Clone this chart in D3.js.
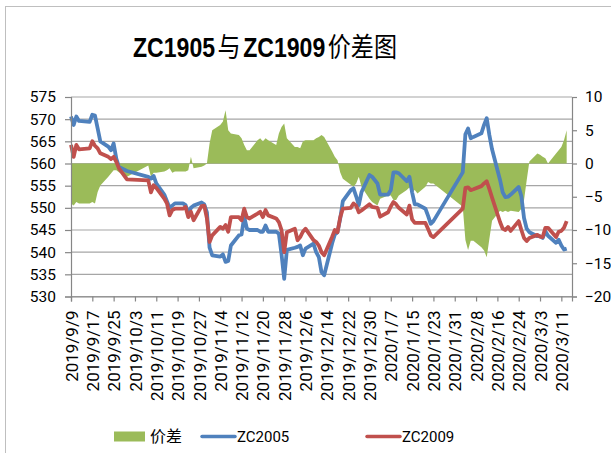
<!DOCTYPE html>
<html>
<head>
<meta charset="utf-8">
<script src="https://cdn.jsdelivr.net/npm/d3@7"></script>
<style>
  body { margin: 0; background: #fff; }
  svg { display: block; }
</style>
</head>
<body>
<svg id="chart" width="611" height="453"></svg>
<script>
// trading days (holidays skipped, hence the straight runs in Oct and around Spring Festival)
const dates = [
  "2019/9/9","2019/9/10","2019/9/11","2019/9/12","2019/9/16","2019/9/17","2019/9/18","2019/9/19","2019/9/20","2019/9/23","2019/9/24","2019/9/25","2019/9/26","2019/9/27","2019/9/30",
  "2019/10/8","2019/10/9","2019/10/10","2019/10/11","2019/10/14","2019/10/15","2019/10/16","2019/10/17","2019/10/18","2019/10/21","2019/10/22","2019/10/23","2019/10/24","2019/10/25","2019/10/28","2019/10/29","2019/10/30","2019/10/31",
  "2019/11/1","2019/11/4","2019/11/5","2019/11/6","2019/11/7","2019/11/8","2019/11/11","2019/11/12","2019/11/13","2019/11/14","2019/11/15","2019/11/18","2019/11/19","2019/11/20","2019/11/21","2019/11/22","2019/11/25","2019/11/26","2019/11/27","2019/11/28","2019/11/29",
  "2019/12/2","2019/12/3","2019/12/4","2019/12/5","2019/12/6","2019/12/9","2019/12/10","2019/12/11","2019/12/12","2019/12/13","2019/12/16","2019/12/17","2019/12/18","2019/12/19","2019/12/20","2019/12/23","2019/12/24","2019/12/25","2019/12/26","2019/12/27","2019/12/30","2019/12/31",
  "2020/1/2","2020/1/3","2020/1/6","2020/1/7","2020/1/8","2020/1/9","2020/1/10","2020/1/13","2020/1/14","2020/1/15","2020/1/16","2020/1/17","2020/1/20","2020/1/21","2020/1/22","2020/1/23",
  "2020/2/3","2020/2/4","2020/2/5","2020/2/6","2020/2/7","2020/2/10","2020/2/11","2020/2/12","2020/2/13","2020/2/14","2020/2/17","2020/2/18","2020/2/19","2020/2/20","2020/2/21","2020/2/24","2020/2/25","2020/2/26","2020/2/27","2020/2/28",
  "2020/3/2","2020/3/3","2020/3/4","2020/3/5","2020/3/6","2020/3/9","2020/3/10","2020/3/11","2020/3/12","2020/3/13"
];

const zc2005 = [
  570.6,568.7,570.6,569.6,569.4,571.0,570.8,567.9,565.0,563.8,563.0,564.5,561.1,559.2,558.3,
  557.0,556.6,557.2,555.5,553.0,551.5,550.0,550.5,551.0,551.0,550.6,548.7,550.0,550.5,551.2,550.8,549.0,541.0,
  539.3,539.0,539.5,537.8,538.0,541.5,543.8,544.0,548.0,545.3,545.0,545.0,544.6,544.6,546.0,544.6,544.6,544.2,539.5,534.0,540.5,
  541.0,541.2,541.5,539.3,540.8,541.9,540.0,538.9,535.5,534.8,542.0,544.0,544.5,547.5,551.5,554.0,554.4,552.6,550.6,553.5,557.4,557.0,
  555.5,553.0,553.0,554.0,558.0,558.0,557.8,556.0,557.0,553.5,550.8,550.8,549.8,548.2,546.4,547.0,
  558.0,566.6,567.9,565.7,566.0,566.8,568.7,570.2,566.4,563.2,556.3,553.5,552.4,552.5,553.0,554.7,552.6,547.7,545.3,544.5,
  543.6,543.6,543.2,544.7,543.7,542.1,542.8,541.5,540.6,540.8
];

const zc2009 = [
  564.2,561.5,564.2,563.2,563.4,565.0,564.0,563.4,562.3,561.5,561.0,561.5,560.4,558.9,556.4,
  556.2,553.5,555.1,554.5,552.1,551.0,548.3,549.5,549.8,549.8,550.2,547.9,549.1,547.2,550.4,550.5,547.6,542.3,
  543.8,545.7,545.3,546.1,544.6,547.9,547.9,547.2,549.8,547.9,547.6,548.7,549.1,547.9,549.5,548.3,547.6,546.8,545.0,540.0,544.5,
  545.3,542.7,543.4,544.6,545.3,542.7,542.3,541.5,540.0,539.3,543.5,545.0,544.5,547.8,549.8,550.0,551.0,550.5,549.0,549.4,550.8,550.2,
  550.0,548.0,549.0,550.3,551.3,550.8,550.0,548.5,550.5,547.4,546.6,546.6,546.6,545.2,543.8,543.4,
  549.8,554.5,554.6,554.0,554.2,554.9,555.5,556.0,554.2,552.3,546.8,545.3,545.0,545.7,544.8,547.0,545.0,543.2,542.5,543.2,
  543.9,543.5,543.4,545.5,545.5,543.4,544.6,544.8,545.5,547.0
];

const spread = [
  -6.0,-6.3,-5.8,-6.0,-6.0,-5.8,-6.0,-4.3,-3.3,-2.0,-1.5,-1.0,-1.0,-1.3,-2.0,
  -0.3,-2.0,-1.4,-1.4,-1.2,-1.0,-0.7,-1.4,-1.2,-1.2,-1.2,-1.0,1.0,-0.7,-0.5,-0.3,0,3.0,
  5.0,5.8,6.3,8.0,5.0,4.5,4.3,3.8,2.8,2.0,2.0,3.5,3.8,3.3,3.8,3.5,2.8,4.5,5.5,6.0,3.8,
  2.5,2.5,2.3,3.3,3.5,3.5,3.8,4.0,4.3,4.0,1.8,1.0,0.5,-1.3,-2.3,-3.2,-3.5,-3.0,-2.0,-3.5,-5.3,-5.8,
  -6.3,-5.3,-4.8,-4.8,-5.5,-5.5,-4.8,-4.0,-3.6,-4.3,-4.0,-4.5,-3.5,-2.8,-3.0,-3.0,
  -6.5,-11.5,-13.0,-11.6,-11.6,-12.6,-13.1,-14.1,-11.3,-8.6,-7.1,-7.3,-7.1,-7.3,-7.1,-7.3,-6.8,-5.5,-2.5,0.3,
  1.5,1.3,1.0,0.8,0,1.5,2.0,2.5,3.5,5.0
];

const xTickLabels = [
  "2019/9/9","2019/9/17","2019/9/25","2019/10/3","2019/10/11","2019/10/19","2019/10/27","2019/11/4",
  "2019/11/12","2019/11/20","2019/11/28","2019/12/6","2019/12/14","2019/12/22","2019/12/30","2020/1/7",
  "2020/1/15","2020/1/23","2020/1/31","2020/2/8","2020/2/16","2020/2/24","2020/3/3","2020/3/11"
];
const leftTicks = [530, 535, 540, 545, 550, 555, 560, 565, 570, 575];
const rightTicks = [-20, -15, -10, -5, 0, 5, 10];

const parse = d3.utcParse("%Y/%m/%d");
const rows = dates.map((d, i) => ({ date: parse(d), a: zc2005[i], b: zc2009[i], s: spread[i] }));

const svg = d3.select("#chart");
const plotLeft = 71, plotRight = 572, plotTop = 97, plotBottom = 296.5;

const x = d3.scaleUtc()
  .domain([parse("2019/9/9"), parse("2020/3/15")])
  .range([plotLeft, plotRight]);
const yL = d3.scaleLinear().domain([530, 575]).range([plotBottom, plotTop]);
const yR = d3.scaleLinear().domain([-20, 10]).range([plotBottom, plotTop]);

// chart frame
svg.append("rect")
  .attr("x", 5.5).attr("y", 6.5)
  .attr("width", 700).attr("height", 600)
  .attr("fill", "#fff")
  .attr("stroke", "#bfbfbf");

// title: one text, bold latin runs and regular CJK runs, squeezed to the picture's width
const title = svg.append("text")
  .attr("x", 265).attr("y", 57)
  .attr("text-anchor", "middle")
  .attr("textLength", 264)
  .attr("lengthAdjust", "spacingAndGlyphs")
  .attr("fill", "#000");
[["ZC1905", true], ["与", false], ["ZC1909", true], ["价差图", false]].forEach(([t, latin], i) => {
  title.append("tspan")
    .attr("dx", i ? 3 : 0)
    .attr("font-family", latin ? "'Liberation Sans', sans-serif" : "'Noto Sans CJK SC', sans-serif")
    .attr("font-weight", latin ? "bold" : "normal")
    .attr("font-size", 27)
    .text(t);
});

// gridlines
svg.append("g")
  .selectAll("line")
  .data(leftTicks)
  .join("line")
  .attr("x1", plotLeft).attr("x2", plotRight)
  .attr("y1", d => yL(d)).attr("y2", d => yL(d))
  .attr("stroke", "#a6a6a6")
  .attr("stroke-width", 1.2);

// spread area
svg.append("path")
  .datum(rows)
  .attr("fill", "#9bbb59")
  .attr("d", d3.area()
    .x(d => x(d.date))
    .y0(yR(0))
    .y1(d => yR(d.s)));

// price lines
const lineA = d3.line().x(d => x(d.date)).y(d => yL(d.a));
const lineB = d3.line().x(d => x(d.date)).y(d => yL(d.b));

svg.append("path")
  .datum(rows)
  .attr("fill", "none")
  .attr("stroke", "#4f81bd")
  .attr("stroke-width", 3.8)
  .attr("stroke-linejoin", "round")
  .attr("d", lineA);

svg.append("path")
  .datum(rows)
  .attr("fill", "none")
  .attr("stroke", "#c0504d")
  .attr("stroke-width", 3.8)
  .attr("stroke-linejoin", "round")
  .attr("d", lineB);

// axes
const tickFont = "Roboto, 'Liberation Sans', sans-serif";

const axL = svg.append("g")
  .attr("transform", `translate(${plotLeft},0)`)
  .call(d3.axisLeft(yL).tickValues(leftTicks).tickSize(6).tickPadding(9));

const axR = svg.append("g")
  .attr("transform", `translate(${plotRight},0)`)
  .call(d3.axisRight(yR).tickValues(rightTicks).tickSize(5).tickPadding(8));

const xTicks = xTickLabels.map(parse);
const axB = svg.append("g")
  .attr("transform", `translate(0,${plotBottom})`)
  .call(d3.axisBottom(x).tickValues(xTicks).tickSize(5).tickFormat((d, i) => xTickLabels[i]));

axB.selectAll("text")
  .attr("transform", "rotate(-90)")
  .attr("x", -14)
  .attr("y", 0)
  .attr("dy", "0.36em")
  .style("text-anchor", "end")
  .attr("font-size", 17);

[axL, axR].forEach(g => g.selectAll("text").attr("font-size", 15.5));
[axL, axR, axB].forEach(g => {
  g.selectAll("path.domain").attr("stroke", "#868686").attr("stroke-width", 1.2);
  g.selectAll(".tick line").attr("stroke", "#868686").attr("stroke-width", 1.2);
  g.selectAll("text").attr("font-family", tickFont).attr("fill", "#000");
});

// legend
const legend = svg.append("g").attr("font-size", 15);
legend.append("rect")
  .attr("x", 114).attr("y", 431.5)
  .attr("width", 31).attr("height", 10)
  .attr("fill", "#9bbb59");
legend.append("text")
  .attr("x", 150).attr("y", 442)
  .attr("font-family", "'Noto Sans CJK SC', sans-serif")
  .attr("font-size", 16)
  .text("价差");

const legendLines = [
  { label: "ZC2005", color: "#4f81bd", x0: 202 },
  { label: "ZC2009", color: "#c0504d", x0: 367 }
];
legendLines.forEach(l => {
  legend.append("line")
    .attr("x1", l.x0).attr("x2", l.x0 + 33)
    .attr("y1", 436.5).attr("y2", 436.5)
    .attr("stroke", l.color)
    .attr("stroke-width", 3.5)
    .attr("stroke-linecap", "round");
  legend.append("text")
    .attr("x", l.x0 + 35).attr("y", 442)
    .attr("font-family", tickFont)
    .text(l.label);
});
</script>
</body>
</html>
